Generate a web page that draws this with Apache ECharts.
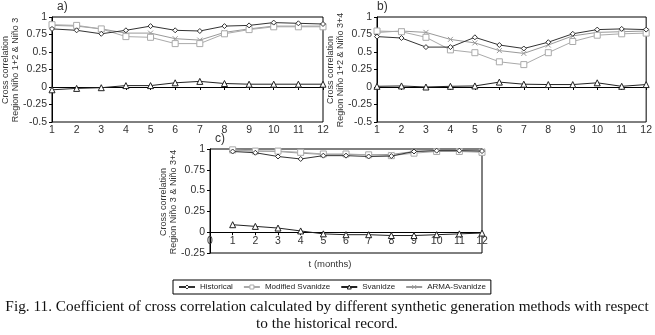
<!DOCTYPE html>
<html>
<head>
<meta charset="utf-8">
<script src="https://cdn.jsdelivr.net/npm/echarts@6/dist/echarts.min.js"></script>
<style>
html, body { margin: 0; padding: 0; background: #fff; }
#chart { width: 655px; height: 335px; }
</style>
</head>
<body>
<div id="chart"></div>
<script>
// months (lag) on the x axis
var months = [1, 2, 3, 4, 5, 6, 7, 8, 9, 10, 11, 12];
var seriesNames = ['Historical', 'Modified Svanidze', 'Svanidze', 'ARMA-Svanidze'];
var yTicksAB = [-0.5, -0.25, 0, 0.25, 0.5, 0.75, 1];
var yTicksC = [-0.25, 0, 0.25, 0.5, 0.75, 1];

// a) Nino 1+2 & Nino 3
var histA  = [0.83, 0.81, 0.76, 0.81, 0.87, 0.81, 0.80, 0.87, 0.88, 0.92, 0.91, 0.90];
var modA   = [0.89, 0.88, 0.83, 0.72, 0.71, 0.62, 0.62, 0.76, 0.82, 0.86, 0.86, 0.86];
var svaA   = [-0.04, -0.02, -0.01, 0.02, 0.02, 0.06, 0.08, 0.05, 0.04, 0.04, 0.04, 0.04];
var armaA  = [0.88, 0.87, 0.83, 0.77, 0.77, 0.69, 0.67, 0.78, 0.83, 0.87, 0.87, 0.87];

// b) Nino 1+2 & Nino 3+4
var histB  = [0.72, 0.70, 0.57, 0.57, 0.71, 0.60, 0.55, 0.64, 0.76, 0.82, 0.83, 0.82];
var modB   = [0.80, 0.79, 0.71, 0.53, 0.49, 0.36, 0.32, 0.49, 0.65, 0.74, 0.76, 0.77];
var svaB   = [0.01, 0.015, 0.0, 0.01, 0.015, 0.07, 0.04, 0.035, 0.035, 0.06, 0.01, 0.035];
var armaB  = [0.78, 0.80, 0.78, 0.68, 0.63, 0.52, 0.48, 0.60, 0.73, 0.78, 0.79, 0.80];

// c) Nino 3 & Nino 3+4
var histC  = [0.97, 0.955, 0.91, 0.88, 0.92, 0.92, 0.91, 0.915, 0.97, 0.98, 0.98, 0.975];
var modC   = [0.99, 0.975, 0.975, 0.96, 0.94, 0.94, 0.93, 0.92, 0.95, 0.97, 0.97, 0.96];
var svaC   = [0.09, 0.07, 0.05, 0.015, -0.02, -0.03, -0.03, -0.04, -0.04, -0.03, -0.02, -0.01];
var armaC  = [0.98, 0.975, 0.97, 0.95, 0.935, 0.935, 0.93, 0.935, 0.97, 0.98, 0.98, 0.975];

var sans = 'Liberation Sans, Arial, sans-serif';
var serif = 'Liberation Serif, Times New Roman, serif';
var looks = [
	{ color: '#333', symbol: 'diamond', size: 5 },
	{ color: '#aaa', symbol: 'rect', size: 6 },
	{ color: '#222', symbol: 'triangle', size: 6 },
	{ color: '#999', symbol: 'path://M0,0L10,10M10,0L0,10', size: 5 }
];

var gridA = { left: 52, top: 17, width: 271, height: 105 };
var gridB = { left: 377, top: 17, width: 271, height: 105 };
var gridC = { left: 210, top: 149, width: 272, height: 104 };

function pairs(vals) {
	var out = [];
	for (var i = 0; i < vals.length; i++) out.push([months[i], vals[i]]);
	return out;
}

function makeSeries(idx, sets) {
	var list = [];
	for (var k = 0; k < 4; k++) {
		list.push({
			name: seriesNames[k],
			type: 'line',
			xAxisIndex: idx,
			yAxisIndex: idx,
			data: pairs(sets[k]),
			symbol: looks[k].symbol,
			symbolSize: looks[k].size,
			showAllSymbol: true,
			lineStyle: { color: looks[k].color, width: 1 },
			itemStyle: { color: '#fff', borderColor: looks[k].color, borderWidth: 1 },
			emphasis: { disabled: true },
			z: 4 - k
		});
	}
	return list;
}

function legendItems() {
	var out = [];
	for (var k = 0; k < seriesNames.length; k++) {
		out.push({
			name: seriesNames[k],
			itemStyle: { color: '#fff', borderColor: looks[k].color, borderWidth: 1 }
		});
	}
	return out;
}

function xAx(idx, min, offset) {
	return {
		type: 'value', gridIndex: idx, min: min, max: 12, interval: 1,
		offset: offset || 0,
		axisLine: { onZero: !offset, lineStyle: { color: '#000', width: 1 } },
		axisTick: { show: true, length: 3, lineStyle: { color: '#000' } },
		axisLabel: { fontFamily: sans, fontSize: 10.5, color: '#333', margin: 3, showMinLabel: true, showMaxLabel: true },
		splitLine: { show: false }
	};
}

function yAx(idx, min) {
	return {
		type: 'value', gridIndex: idx, min: min, max: 1, interval: 0.25,
		axisLine: { show: true, onZero: false, lineStyle: { color: '#000', width: 1 } },
		axisTick: { show: true, length: 3, lineStyle: { color: '#000' } },
		axisLabel: { fontFamily: sans, fontSize: 10.5, color: '#333', margin: 5 },
		splitLine: { show: false }
	};
}

function yTitle(x, y, line2) {
	return {
		type: 'text', x: x, y: y, rotation: Math.PI / 2,
		style: {
			text: 'Cross correlation\n' + line2,
			fontFamily: sans, fontSize: 9, lineHeight: 10, fill: '#333',
			align: 'center', verticalAlign: 'middle'
		}
	};
}

function boxed(g) {
	return { left: g.left, top: g.top, width: g.width, height: g.height, show: true, borderColor: '#000', borderWidth: 1 };
}

// onZero does not take for panel c, so lift its x axis up to y = 0 by hand
var yMinC = yTicksC[0];
var cZeroOffset = -gridC.height * (0 - yMinC) / (1 - yMinC);

var chart = echarts.init(document.getElementById('chart'));
var option = {
	animation: false,
	backgroundColor: '#fff',
	grid: [boxed(gridA), boxed(gridB), boxed(gridC)],
	xAxis: [xAx(0, 1), xAx(1, 1), xAx(2, 0, cZeroOffset)],
	yAxis: [yAx(0, yTicksAB[0]), yAx(1, yTicksAB[0]), yAx(2, yMinC)],
	legend: {
		data: legendItems(),
		left: 173, top: 280,
		itemWidth: 16, itemHeight: 5, itemGap: 10,
		padding: [3, 5],
		borderColor: '#000', borderWidth: 1,
		textStyle: { fontFamily: sans, fontSize: 8, color: '#222' }
	},
	graphic: [
		{ type: 'text', x: 57, y: 1, style: { text: 'a)', fontFamily: sans, fontSize: 12, fill: '#333' } },
		{ type: 'text', x: 377, y: 1, style: { text: 'b)', fontFamily: sans, fontSize: 12, fill: '#333' } },
		{ type: 'text', x: 215, y: 133, style: { text: 'c)', fontFamily: sans, fontSize: 12, fill: '#333' } },
		yTitle(11, 70, 'Region Niño 1+2 & Niño 3'),
		yTitle(336, 70, 'Region Niño 1+2 & Niño 3+4'),
		yTitle(169, 202, 'Region Niño 3 & Niño 3+4'),
		{ type: 'text', x: 330, y: 264, style: { text: 't (months)', fontFamily: sans, fontSize: 9.5, fill: '#333', align: 'center', verticalAlign: 'middle' } },
		{ type: 'text', x: 327, y: 307, style: { text: 'Fig. 11. Coefficient of cross correlation calculated by different synthetic generation methods with respect', fontFamily: serif, fontSize: 15.3, fill: '#111', align: 'center', verticalAlign: 'middle' } },
		{ type: 'text', x: 327, y: 324, style: { text: 'to the historical record.', fontFamily: serif, fontSize: 15.3, fill: '#111', align: 'center', verticalAlign: 'middle' } }
	],
	series: [].concat(
		makeSeries(0, [histA, modA, svaA, armaA]),
		makeSeries(1, [histB, modB, svaB, armaB]),
		makeSeries(2, [histC, modC, svaC, armaC])
	)
};
chart.setOption(option);
</script>
</body>
</html>
